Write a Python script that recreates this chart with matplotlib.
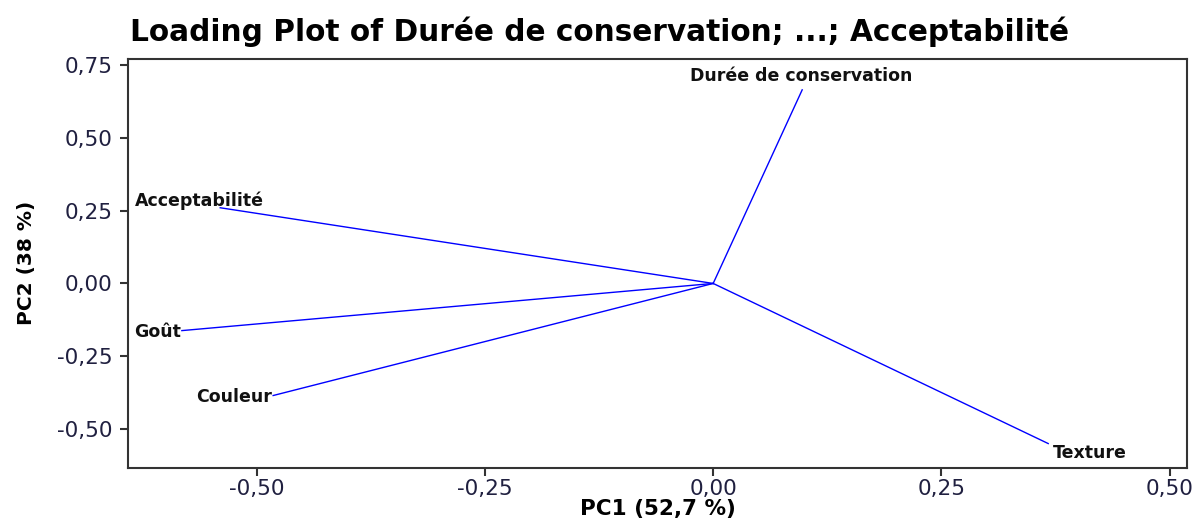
import matplotlib
matplotlib.use("Agg")
import matplotlib.pyplot as plt
from matplotlib.ticker import FuncFormatter

# loadings
variables = ["Durée de conservation", "Acceptabilité", "Goût", "Couleur", "Texture"]
pc1 = [0.0975, -0.540, -0.582, -0.482, 0.367]
pc2 = [0.665, 0.260, -0.162, -0.385, -0.550]

xticks = [-0.50, -0.25, 0.00, 0.25, 0.50]
yticks = [-0.50, -0.25, 0.00, 0.25, 0.50, 0.75]

# label placement (offset in pixels, alignment) per variable
label_style = {
    "Durée de conservation": ((-1, 14), "center", "center"),
    "Acceptabilité": ((-85, 7), "left", "center"),
    "Goût": ((-1, -1), "right", "center"),
    "Couleur": ((-1, -1), "right", "center"),
    "Texture": ((5, -9), "left", "center"),
}

plt.rcParams["font.family"] = ["DejaVu Sans"]

fig = plt.figure(figsize=(12.02, 5.23), dpi=100)
ax = fig.add_axes([0.1065, 0.1057, 0.881, 0.7815])

for name, x, y in zip(variables, pc1, pc2):
    ax.plot([0, x], [0, y], color="#0000ff", linewidth=1.0)
    off, ha, va = label_style[name]
    ax.annotate(name, (x, y), xytext=off, textcoords="offset pixels",
                ha=ha, va=va, fontsize=12.5, fontweight="bold", color="#111111")

ax.set_xlim(-0.641, 0.519)
ax.set_ylim(-0.633, 0.771)
ax.set_xticks(xticks)
ax.set_yticks(yticks)
fmt = FuncFormatter(lambda v, p: f"{v:.2f}".replace(".", ","))
ax.xaxis.set_major_formatter(fmt)
ax.yaxis.set_major_formatter(fmt)
ax.tick_params(direction="out", length=6, width=1.5, labelsize=15.5,
               labelcolor="#202040", color="#333333")
ax.tick_params(axis="x", pad=2)
ax.tick_params(axis="y", pad=5)
for s in ax.spines.values():
    s.set_linewidth(1.5)
    s.set_color("#333333")

ax.set_xlabel("PC1 (52,7 %)", fontsize=15.5, fontweight="bold", labelpad=0)
ax.set_ylabel("PC2 (38 %)", fontsize=14.5, fontweight="bold", labelpad=15)
fig.text(0.108, 0.939, "Loading Plot of Durée de conservation; ...; Acceptabilité",
         fontsize=21.3, fontweight="bold", ha="left", va="center")

fig.savefig("out.png", dpi=100)
